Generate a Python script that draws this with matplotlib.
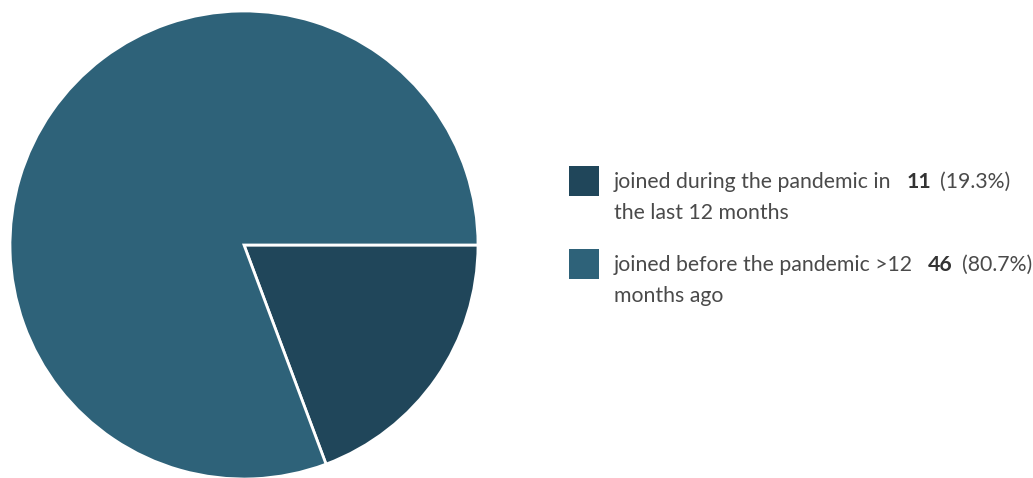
import matplotlib
matplotlib.use("Agg")
import matplotlib.pyplot as plt
from matplotlib.patches import Rectangle

labels_line1 = ["joined during the pandemic in", "joined before the pandemic >12"]
labels_line2 = ["the last 12 months", "months ago"]
counts = [11, 46]
percents = ["(19.3%)", "(80.7%)"]
colors = ["#20465a", "#2e6279"]

W, H = 1033, 478
fig = plt.figure(figsize=(W / 100, H / 100), dpi=100)
fig.patch.set_facecolor("white")
plt.rcParams["font.family"] = ["Lato", "DejaVu Sans"]

def px(x, y):
    return x / W, 1 - y / H

# pie centred at (244, 245) with radius ~234 px
cx, cy, r = 244, 245, 234
ax = fig.add_axes([(cx - r) / W, 1 - (cy + r) / H, 2 * r / W, 2 * r / H])
ax.pie(counts, colors=colors, startangle=0, counterclock=False,
       wedgeprops=dict(edgecolor="white", linewidth=2))
ax.set_xlim(-1, 1)
ax.set_ylim(-1, 1)
ax.set_aspect("auto")
ax.axis("off")

renderer = fig.canvas.get_renderer()
text_color = "#4a4a4a"
fs = 15.3
rows_y = [166, 249]
for i in range(2):
    y0 = rows_y[i]
    x0, y1 = px(569, y0 + 30)
    fig.patches.append(Rectangle((x0, y1), 30 / W, 30 / H, transform=fig.transFigure,
                                 facecolor=colors[i], edgecolor="none"))
    tx, ty = px(614, y0 + 16)
    t1 = fig.text(tx, ty, labels_line1[i], fontsize=fs, color=text_color, va="center")
    tx2, ty2 = px(614, y0 + 47)
    fig.text(tx2, ty2, labels_line2[i], fontsize=fs, color=text_color, va="center")
    end1 = t1.get_window_extent(renderer).x1
    t2 = fig.text((end1 + 15) / W, ty, str(counts[i]), fontsize=fs, color="#333333",
                  fontweight="bold", va="center")
    end2 = t2.get_window_extent(renderer).x1
    fig.text((end2 + 9) / W, ty, percents[i], fontsize=fs, color=text_color, va="center")

fig.savefig("out.png", dpi=100, facecolor="white")
